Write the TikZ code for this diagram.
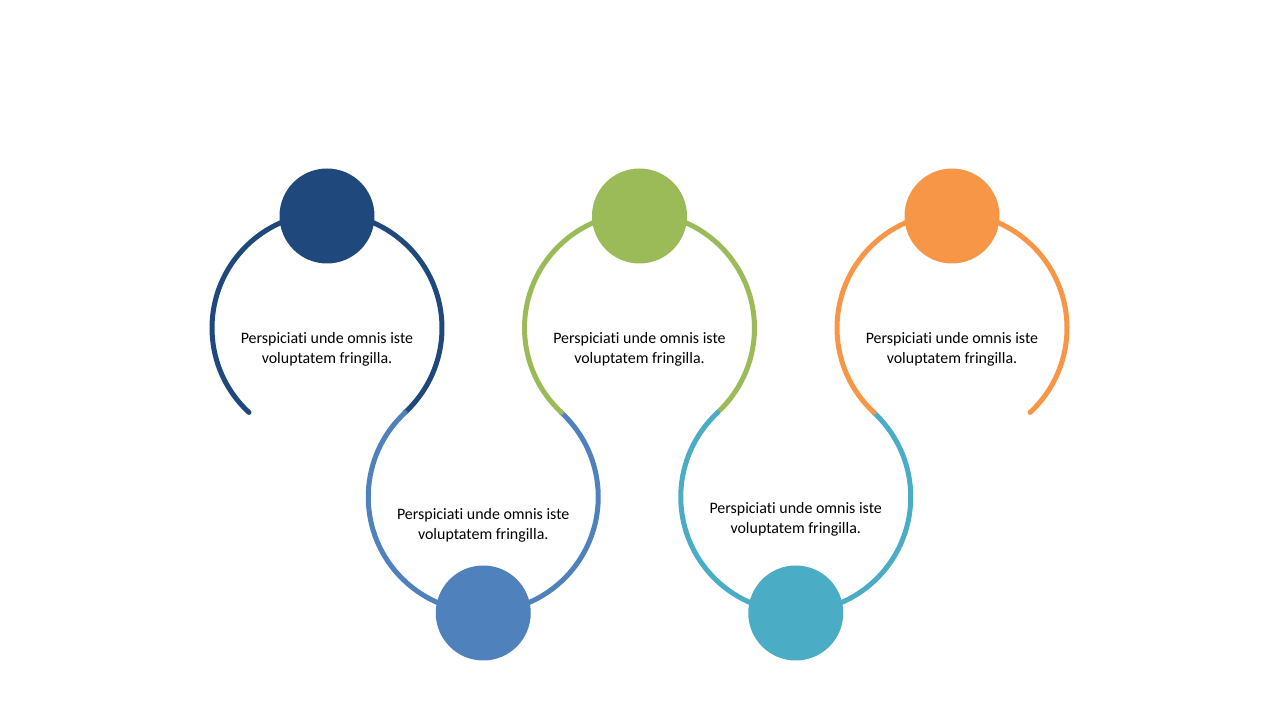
\documentclass[tikz,border=0pt]{standalone}
\usepackage{fontspec}
\setmainfont[Ligatures=NoCommon]{Carlito}
\definecolor{ringA}{HTML}{1F497D}
\definecolor{ringB}{HTML}{4F81BD}
\definecolor{ringC}{HTML}{9BBB59}
\definecolor{ringD}{HTML}{4BACC6}
\definecolor{ringE}{HTML}{F79646}
\begin{document}
\begin{tikzpicture}[x=1bp,y=1bp,ring/.style = {line width=5bp, line cap=round},dot/.style = {circle, minimum size=95bp, inner sep=0pt},txt/.style = {align=center, font=\fontsize{16}{20.7}\selectfont}]
        \useasboundingbox (0,0) rectangle (1280,720);
        \coordinate (c1) at (327,392);
        \coordinate (c2) at (483.25,223);
        \coordinate (c3) at (639.5,392);
        \coordinate (c4) at (795.75,223);
        \coordinate (c5) at (952,392);
        \draw[ring, ringA] (c1) ++(227.25:115) arc[start angle=227.25, end angle=-47.25, radius=115];
        \draw[ring, ringB] (c2) ++(132.75:115) arc[start angle=132.75, end angle=407.25, radius=115];
        \draw[ring, ringC] (c3) ++(227.25:115) arc[start angle=227.25, end angle=-47.25, radius=115];
        \draw[ring, ringD] (c4) ++(132.75:115) arc[start angle=132.75, end angle=407.25, radius=115];
        \draw[ring, ringE] (c5) ++(227.25:115) arc[start angle=227.25, end angle=-47.25, radius=115];
        \node[dot, fill=ringA] (d1) at (327,504) {};
        \node[dot, fill=ringB] (d2) at (483.25,107) {};
        \node[dot, fill=ringC] (d3) at (639.5,504) {};
        \node[dot, fill=ringD] (d4) at (795.75,107) {};
        \node[dot, fill=ringE] (d5) at (952,504) {};
        \node[txt] (t1) at (327,370.5) {Perspiciati unde omnis iste\\voluptatem fringilla.};
        \node[txt] (t2) at (483.25,194.5) {Perspiciati unde omnis iste\\voluptatem fringilla.};
        \node[txt] (t3) at (639.5,370.5) {Perspiciati unde omnis iste\\voluptatem fringilla.};
        \node[txt] (t4) at (795.75,200.5) {Perspiciati unde omnis iste\\voluptatem fringilla.};
        \node[txt] (t5) at (952,370.5) {Perspiciati unde omnis iste\\voluptatem fringilla.};
        %\draw[ring, ringB] (c2) circle (115);
        \end{tikzpicture}
\end{document}
